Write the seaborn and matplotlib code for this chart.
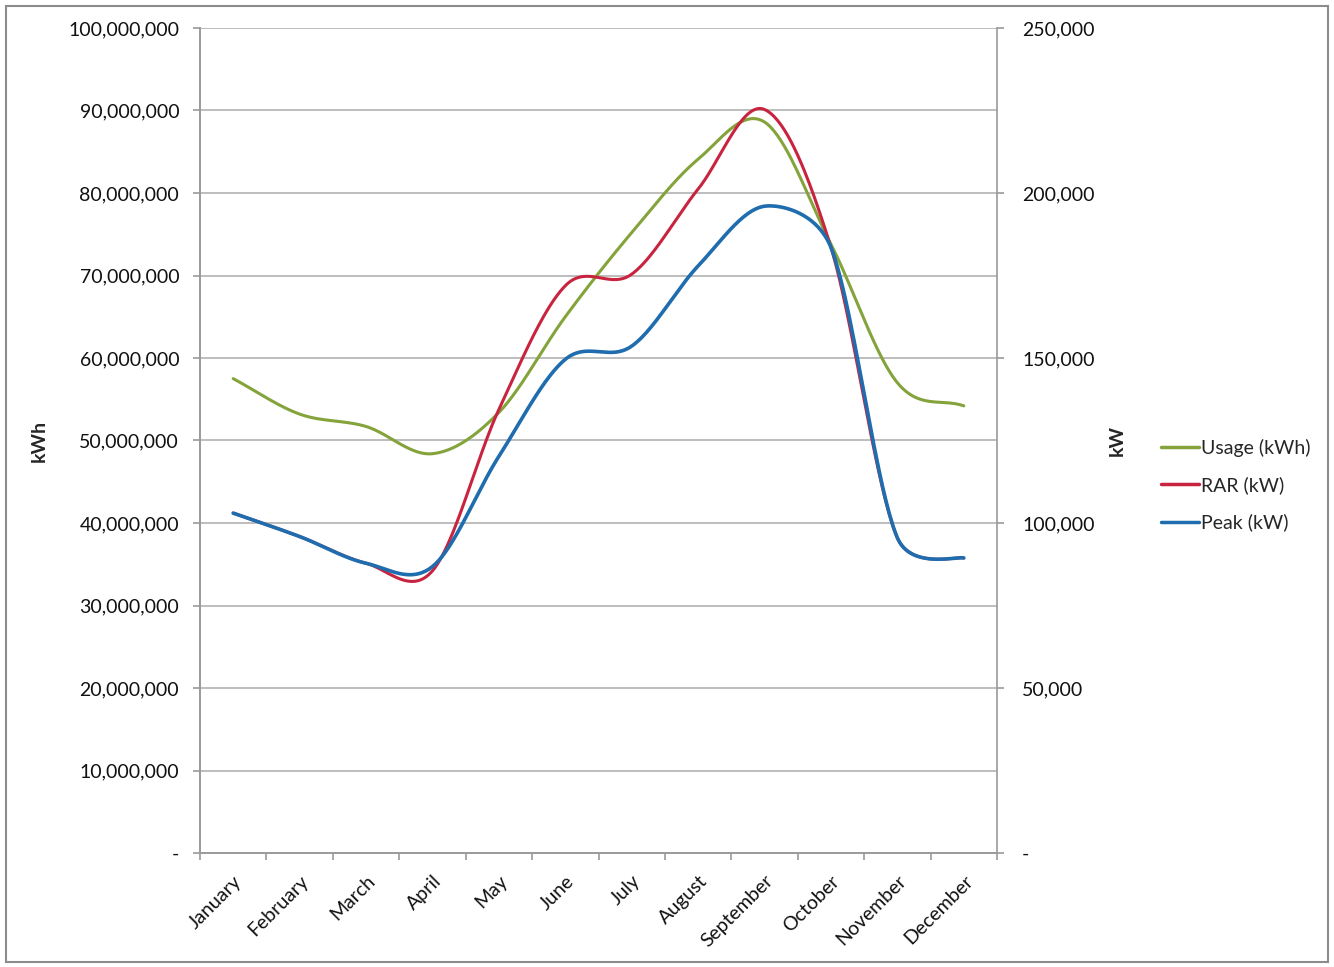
import numpy as np
import pandas as pd
import matplotlib
matplotlib.use("Agg")
import matplotlib.pyplot as plt
import seaborn as sns
from matplotlib.lines import Line2D
from matplotlib.patches import Rectangle
from matplotlib.ticker import FuncFormatter, FixedLocator

months = ["January", "February", "March", "April", "May", "June", "July",
          "August", "September", "October", "November", "December"]
usage_kwh = [57.5e6, 53.2e6, 51.7e6, 48.4e6, 53.4e6, 65.0e6, 75.2e6,
             84.1e6, 88.6e6, 73.8e6, 57.0e6, 54.2e6]
rar_kw = [103000, 95900, 87800, 85500, 134400, 171900, 175400,
          201200, 225300, 183500, 95500, 89400]
peak_kw = [103000, 95900, 87800, 86800, 120200, 149600, 153600,
           177900, 196000, 183500, 95500, 89400]

left_ticks = [0, 10e6, 20e6, 30e6, 40e6, 50e6, 60e6, 70e6, 80e6, 90e6, 100e6]
right_ticks = [0, 50000, 100000, 150000, 200000, 250000]

c_green = "#84A33A"
c_red = "#C8243F"
c_blue = "#1F6DAE"

PX_X = 797 / 12.0      # pixels per category
PX_H = 825.0           # plot height in pixels


def excel_smooth(vals, ymax, n=40):
    """Excel-like smoothed line (limited Catmull-Rom Bezier), computed in pixel space."""
    v = np.asarray(vals, dtype=float)
    P = np.column_stack([np.arange(len(v)) * PX_X, v / ymax * PX_H])
    out = []
    N = len(P)
    for i in range(N - 1):
        p0 = P[max(i - 1, 0)]
        p1 = P[i]
        p2 = P[i + 1]
        p3 = P[min(i + 2, N - 1)]
        d02 = np.linalg.norm(p2 - p0)
        d12 = np.linalg.norm(p2 - p1)
        d13 = np.linalg.norm(p3 - p1)
        c0 = d02 / 6 >= d12 / 2
        c1 = d13 / 6 >= d12 / 2
        if not c0 and not c1:
            f = 1 / 6 if i > 0 else 1 / 3
            b1 = p1 + (p2 - p0) * f
            f = 1 / 6 if i + 2 <= N - 1 else 1 / 3
            b2 = p2 - (p3 - p1) * f
        elif c0 and c1:
            b1 = p1 + (p2 - p0) * d12 / 2 / d02
            b2 = p2 - (p3 - p1) * d12 / 2 / d13
        elif c0:
            b1 = p1 + (p2 - p0) * d12 / 2 / d02
            b2 = p2 - (p3 - p1) * d12 / 2 / d02
        else:
            b1 = p1 + (p2 - p0) * d12 / 2 / d13
            b2 = p2 - (p3 - p1) * d12 / 2 / d13
        t = np.linspace(0, 1, n, endpoint=(i == N - 2))[:, None]
        seg = (1 - t) ** 3 * p1 + 3 * (1 - t) ** 2 * t * b1 + 3 * (1 - t) * t ** 2 * b2 + t ** 3 * p2
        out.append(seg)
    out = np.vstack(out)
    return out[:, 0] / PX_X, out[:, 1] / PX_H * ymax


sns.set_theme(style="white")
plt.rcParams["font.family"] = ["Lato", "DejaVu Sans"]

fig = plt.figure(figsize=(13.34, 9.67), dpi=100)
ax = fig.add_axes([200 / 1334, 1 - 853 / 967, 797 / 1334, (853 - 28) / 967])
ax2 = ax.twinx()

fs = 14
grid_c = "#BDBDBD"
axis_c = "#9A9A9A"
txt_c = "#111111"

# left axis (kWh)
ax.set_ylim(0, 100e6)
ax.set_xlim(-0.5, 11.5)
ax.yaxis.set_major_locator(FixedLocator(left_ticks))
ax.yaxis.set_major_formatter(FuncFormatter(lambda v, p: "-" if v == 0 else f"{v:,.0f}"))
ax.grid(axis="y", color=grid_c, linewidth=1.4)
ax.set_axisbelow(True)

xs, ys = excel_smooth(usage_kwh, 100e6)
sns.lineplot(x=xs, y=ys, ax=ax, color=c_green, linewidth=2.2, sort=False, estimator=None)

# right axis (kW)
ax2.set_ylim(0, 250000)
ax2.yaxis.set_major_locator(FixedLocator(right_ticks))
ax2.yaxis.set_major_formatter(FuncFormatter(lambda v, p: "-" if v == 0 else f"{v:,.0f}"))
ax2.grid(False)
xr, yr = excel_smooth(rar_kw, 250000)
xb, yb = excel_smooth(peak_kw, 250000)
sns.lineplot(x=xr, y=yr, ax=ax2, color=c_red, linewidth=2.2, sort=False, estimator=None)
sns.lineplot(x=xb, y=yb, ax=ax2, color=c_blue, linewidth=2.6, sort=False, estimator=None)

# x ticks
ax.set_xticks(range(len(months)))
ax.set_xticklabels(months, rotation=45, ha="right", rotation_mode="anchor",
                   fontsize=fs, color=txt_c)
ax.set_xticks(np.arange(-0.5, 12, 1), minor=True)
ax.tick_params(axis="x", which="major", length=0, pad=14)
ax.tick_params(axis="x", which="minor", length=5, color=axis_c, width=1.2, bottom=True)
ax.tick_params(axis="y", which="major", length=5, color=axis_c, width=1.2,
               labelsize=fs, labelcolor=txt_c, pad=10, left=True)
ax2.tick_params(axis="y", which="major", length=5, color=axis_c, width=1.2,
                labelsize=fs, labelcolor=txt_c, pad=13, right=True)

for a in (ax, ax2):
    for s in a.spines.values():
        s.set_color(axis_c)
        s.set_linewidth(1.2)
    a.spines["top"].set_visible(False)
ax.spines["right"].set_visible(False)

ax.set_ylabel("kWh", fontsize=fs, fontweight="bold", labelpad=0)
ax.yaxis.set_label_coords(-152 / 797, 0.5)
ax2.set_ylabel("kW", fontsize=fs, fontweight="bold", rotation=90, labelpad=0)
ax2.yaxis.set_label_coords(1 + 112 / 797, 0.5)

# legend
handles = [Line2D([], [], color=c_green, lw=2.5),
           Line2D([], [], color=c_red, lw=2.5),
           Line2D([], [], color=c_blue, lw=2.5)]
labels = ["Usage (kWh)", "RAR (kW)", "Peak (kW)"]
fig.legend(handles, labels, loc="center left", bbox_to_anchor=(1143 / 1334, 1 - 485 / 967),
           frameon=False, fontsize=fs, handlelength=2.0, handletextpad=0.1,
           labelspacing=1.0)

# outer chart border
fig.patches.append(Rectangle((6 / 1334, 1 - 962 / 967), 1322 / 1334, 956 / 967,
                             transform=fig.transFigure, fill=False,
                             edgecolor="#8C8C8C", linewidth=1.5))

fig.savefig("out.png", dpi=100, facecolor="white")
